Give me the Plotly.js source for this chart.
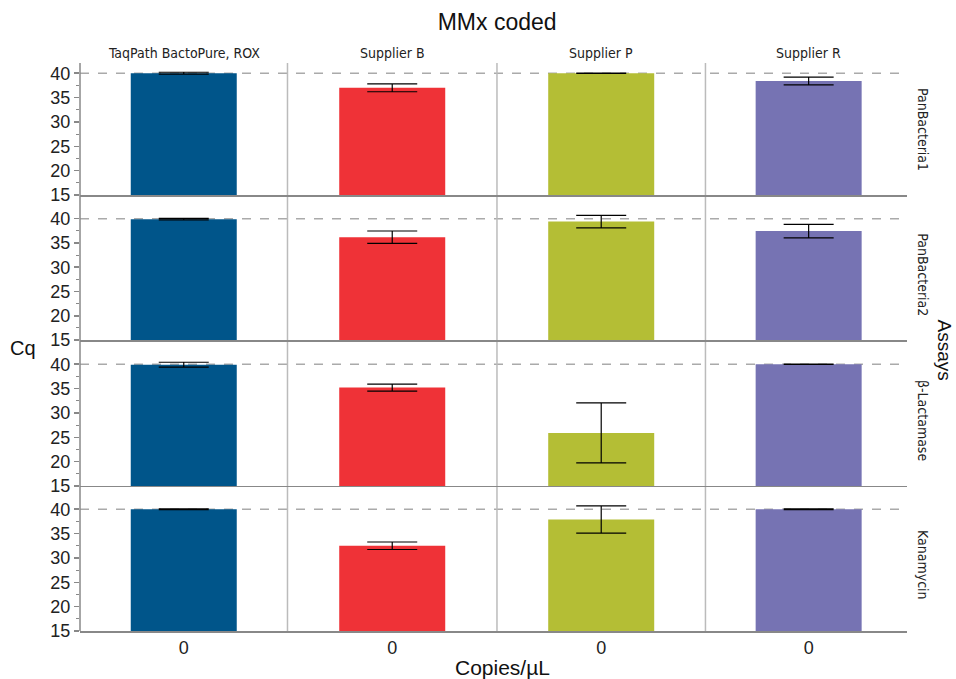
<!DOCTYPE html>
<html>
<head>
<meta charset="utf-8">
<script src="https://cdn.plot.ly/plotly-3.0.1.min.js"></script>
<style>html,body{margin:0;padding:0;background:#fff;}#chart{width:956px;height:679px;}</style>
</head>
<body>
<div id="chart"></div>
<script>
// ---- data ----
const suppliers = ['TaqPath BactoPure, ROX', 'Supplier B', 'Supplier P', 'Supplier R'];
const assays = ['PanBacteria1', 'PanBacteria2', 'β-Lactamase', 'Kanamycin'];
const copies = ['0'];
const cqTaqPath   = [40.0, 39.9, 39.9, 40.0];
const errTaqPath  = [0.2, 0.15, 0.5, 0.1];
const cqSupplierB = [37.0, 36.2, 35.2, 32.5];
const errSupplierB= [0.8, 1.27, 0.72, 0.77];
const cqSupplierP = [40.0, 39.4, 25.9, 37.9];
const errSupplierP= [0.05, 1.3, 6.15, 2.8];
const cqSupplierR = [38.4, 37.45, 40.0, 40.0];
const errSupplierR= [0.8, 1.4, 0.05, 0.1];
const yTicks = [15, 20, 25, 30, 35, 40];
const cutoff = 40;

// ---- styling / layout ----
const cqBySupplier = [cqTaqPath, cqSupplierB, cqSupplierP, cqSupplierR];
const errBySupplier = [errTaqPath, errSupplierB, errSupplierP, errSupplierR];
const colors = ['#00558A', '#EF3237', '#B4BE35', '#7673B3'];
const colBounds = [0, 0.2509, 0.5042, 0.7563, 1];
const rowDomains = [[0.7676, 1.0], [0.5123, 0.7438], [0.2553, 0.4877], [0, 0.2324]];
const plotWidthPx = 827;
const barPx = 106;
const narrow = 'Liberation Sans Narrow, DejaVu Sans Condensed, Roboto, sans-serif';
const sans = 'Liberation Sans, Arial, Helvetica, sans-serif';

const traces = [];
const layout = {
  width: 956, height: 679,
  margin: {l: 80, r: 49, t: 63, b: 48},
  paper_bgcolor: '#fff',
  plot_bgcolor: 'rgba(0,0,0,0)',
  showlegend: false,
  font: {family: sans, color: '#222'},
  title: {text: 'MMx coded', x: 0.52, xanchor: 'center', y: 1 - 22/679, yanchor: 'middle',
          font: {size: 23, family: sans, color: '#111'}},
  shapes: [], annotations: []
};

for (let r = 0; r < 4; r++) {
  for (let c = 0; c < 4; c++) {
    const idx = r * 4 + c + 1;
    const sfx = idx === 1 ? '' : String(idx);
    const colPx = (colBounds[c + 1] - colBounds[c]) * plotWidthPx;
    traces.push({
      type: 'bar',
      x: copies,
      y: [cqBySupplier[c][r]],
      base: 0,
      width: barPx / colPx,
      marker: {color: colors[c], line: {width: 0}},
      error_y: {type: 'data', array: [errBySupplier[c][r]], visible: true, color: '#000', thickness: 1.2, width: 25},
      xaxis: 'x' + sfx, yaxis: 'y' + sfx,
      hoverinfo: 'skip'
    });
    layout['xaxis' + sfx] = {
      domain: [colBounds[c], colBounds[c + 1]],
      anchor: 'y' + sfx,
      type: 'category',
      range: c === 3 ? [-0.512, 0.488] : [-0.5, 0.5],
      showline: true, linecolor: '#888', linewidth: 1.5,
      showgrid: false, zeroline: false, ticks: '',
      showticklabels: r === 3,
      tickfont: {size: 18, family: sans, color: '#222'},
      fixedrange: true
    };
    const yax = {
      domain: rowDomains[r],
      anchor: 'x' + sfx,
      range: [15, 42.1],
      tickvals: yTicks,
      showgrid: false, zeroline: false, showline: false,
      fixedrange: true
    };
    if (c === 0) {
      Object.assign(yax, {
        ticks: 'outside', ticklen: 5, tickwidth: 1.5, tickcolor: '#888',
        showticklabels: true, tickfont: {size: 18, family: sans, color: '#222'},
        minor: {dtick: 2.5, tick0: 15, ticks: 'outside', ticklen: 3, tickwidth: 1, tickcolor: '#888', showgrid: false}
      });
    } else {
      Object.assign(yax, {ticks: '', showticklabels: false});
    }
    layout['yaxis' + sfx] = yax;
  }
  // cutoff dashed line across the row
  const ySfx = r === 0 ? '' : String(r * 4 + 1);
  layout.shapes.push({
    type: 'line', xref: 'paper', yref: 'y' + ySfx,
    x0: 0, x1: 1, y0: cutoff, y1: cutoff,
    line: {color: '#aaa', width: 1.5, dash: 'dash'}, layer: 'below'
  });
  // row label
  layout.annotations.push({
    text: assays[r], xref: 'paper', yref: 'paper',
    x: 1, xanchor: 'left', xshift: 6,
    y: (rowDomains[r][0] + rowDomains[r][1]) / 2, yanchor: 'middle',
    textangle: 90, showarrow: false,
    font: {size: 14, family: narrow, color: '#222'}
  });
}

// column headers
for (let c = 0; c < 4; c++) {
  layout.annotations.push({
    text: suppliers[c], xref: 'paper', yref: 'paper',
    x: (colBounds[c] + colBounds[c + 1]) / 2 + (c === 3 ? 0.003 : 0), xanchor: 'center',
    y: 1, yanchor: 'bottom', yshift: 0, showarrow: false,
    font: {size: 14, family: narrow, color: '#222'}
  });
}

// vertical separators and left axis line
layout.shapes.push({type: 'line', xref: 'paper', yref: 'paper', x0: 0, x1: 0, y0: 0, y1: 1,
  line: {color: '#888', width: 1.5}, layer: 'below'});
for (let c = 1; c < 4; c++) {
  layout.shapes.push({type: 'line', xref: 'paper', yref: 'paper', x0: colBounds[c], x1: colBounds[c], y0: 0, y1: 1,
    line: {color: '#bbb', width: 1.5}, layer: 'below'});
}

// axis titles
layout.annotations.push({text: 'Cq', xref: 'paper', yref: 'paper', x: 0, xanchor: 'right', xshift: -42,
  y: (631 - 348) / 568, yanchor: 'middle', showarrow: false, font: {size: 20, family: sans, color: '#111'}});
layout.annotations.push({text: 'Copies/µL', xref: 'paper', yref: 'paper', x: (503 - 80) / 827, xanchor: 'center',
  y: 0, yanchor: 'top', yshift: -23, showarrow: false, font: {size: 21, family: sans, color: '#111'}});
layout.annotations.push({text: 'Assays', xref: 'paper', yref: 'paper', x: 1, xanchor: 'left', xshift: 24,
  y: (631 - 350) / 568, yanchor: 'middle', textangle: 90, showarrow: false, font: {size: 19, family: sans, color: '#111'}});

Plotly.newPlot('chart', traces, layout, {displayModeBar: false, staticPlot: true});
</script>
</body>
</html>
